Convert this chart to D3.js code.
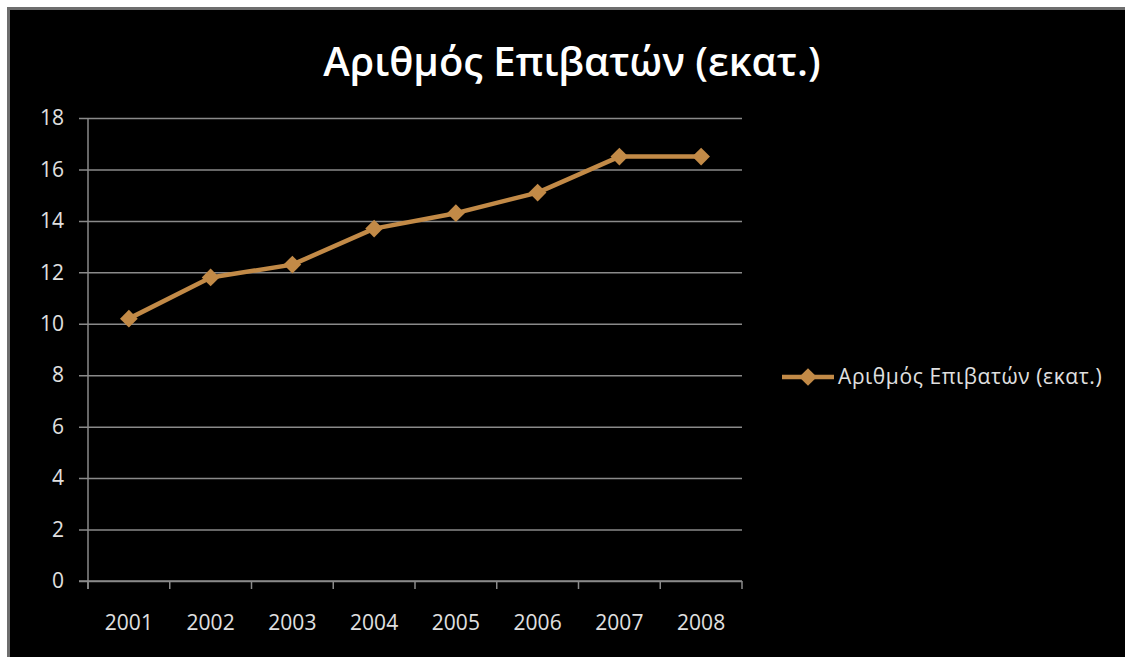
<!DOCTYPE html>
<html>
<head>
<meta charset="utf-8">
<script src="https://cdn.jsdelivr.net/npm/d3@7"></script>
<style>
  html, body { margin: 0; padding: 0; background: #ffffff; overflow: hidden; }
  svg { display: block; }
</style>
</head>
<body>
<svg id="chart" width="1125" height="657"></svg>
<script>
// Passenger counts (millions) per year
const years = ["2001", "2002", "2003", "2004", "2005", "2006", "2007", "2008"];
const passengers = [10.2, 11.8, 12.3, 13.7, 14.3, 15.1, 16.5, 16.5];
const yTicks = [0, 2, 4, 6, 8, 10, 12, 14, 16, 18];
const seriesName = "Αριθμός Επιβατών (εκατ.)";
const titleText = "Αριθμός Επιβατών (εκατ.)";

const svg = d3.select("#chart");
const W = 1125, H = 657;
const lineColor = "#c28a47";
const gridColor = "#8a8a8a";
const textColor = "#e0e0e0";
const font = "'Open Sans', 'Noto Sans', sans-serif";

// Framed black panel (frame only on the top and left edges)
svg.append("rect").attr("x", 7).attr("y", 7).attr("width", W + 20).attr("height", H + 20)
  .attr("fill", "#6e6e6e");
svg.append("rect").attr("x", 10).attr("y", 10).attr("width", W + 20).attr("height", H + 20)
  .attr("fill", "#000000");

// Title
svg.append("text")
  .attr("x", 572).attr("y", 76)
  .attr("text-anchor", "middle")
  .attr("font-family", font)
  .attr("font-weight", 600)
  .attr("font-size", 40)
  .attr("fill", "#ffffff")
  .text(titleText);

const plot = { left: 88, right: 742, top: 118, bottom: 581 };

const x = d3.scaleBand().domain(years).range([plot.left, plot.right]).paddingInner(0).paddingOuter(0);
const y = d3.scaleLinear().domain([0, 18]).range([plot.bottom, plot.top]);

// Horizontal gridlines with outward ticks
const yAxis = d3.axisLeft(y).tickValues(yTicks)
  .tickSize(-(plot.right - plot.left)).tickPadding(16).tickFormat(d3.format("d"));
const gy = svg.append("g").attr("transform", `translate(${plot.left},0)`).call(yAxis);
gy.select(".domain").remove();
gy.selectAll(".tick line").attr("stroke", gridColor).attr("stroke-width", 1.5)
  .attr("x1", -9);
gy.selectAll(".tick text").attr("fill", textColor).attr("font-family", font)
  .attr("font-size", 21).attr("x", -24);

// Vertical axis line
svg.append("line")
  .attr("x1", plot.left).attr("x2", plot.left)
  .attr("y1", plot.top).attr("y2", plot.bottom + 8)
  .attr("stroke", gridColor).attr("stroke-width", 1.5);

// Category axis: ticks at band boundaries
const gx = svg.append("g").attr("transform", `translate(0,${plot.bottom})`);
gx.append("line").attr("x1", plot.left - 9).attr("x2", plot.right)
  .attr("y1", 0).attr("y2", 0).attr("stroke", gridColor).attr("stroke-width", 1.5);
const boundaries = years.map(d => x(d)).concat([x(years[years.length - 1]) + x.bandwidth()]);
gx.selectAll("line.tk").data(boundaries).join("line").attr("class", "tk")
  .attr("x1", d => d).attr("x2", d => d).attr("y1", 0).attr("y2", 8)
  .attr("stroke", gridColor).attr("stroke-width", 1.5);
gx.selectAll("text").data(years).join("text")
  .attr("x", d => x(d) + x.bandwidth() / 2)
  .attr("y", 49)
  .attr("text-anchor", "middle")
  .attr("font-family", font).attr("font-size", 21).attr("fill", textColor)
  .text(d => d);

// Series line
const cx = (d, i) => x(years[i]) + x.bandwidth() / 2;
const line = d3.line().x((d, i) => cx(d, i)).y(d => y(d));
svg.append("path").datum(passengers)
  .attr("d", line).attr("fill", "none")
  .attr("stroke", lineColor).attr("stroke-width", 4.5).attr("stroke-linejoin", "round");

const diamond = d3.symbol().type(d3.symbolDiamond2).size(200);
svg.selectAll("path.mk").data(passengers).join("path").attr("class", "mk")
  .attr("d", diamond)
  .attr("transform", (d, i) => `translate(${cx(d, i)},${y(d)})`)
  .attr("fill", lineColor);

// Legend
const lg = svg.append("g").attr("transform", "translate(782,377)");
lg.append("line").attr("x1", 0).attr("x2", 52).attr("y1", 0).attr("y2", 0)
  .attr("stroke", lineColor).attr("stroke-width", 4.5);
lg.append("path").attr("d", diamond).attr("transform", "translate(26,0)").attr("fill", lineColor);
lg.append("text").attr("x", 56).attr("y", 7)
  .attr("font-family", font).attr("font-size", 21).attr("letter-spacing", 0.6)
  .attr("fill", textColor)
  .text(seriesName);
</script>
</body>
</html>
